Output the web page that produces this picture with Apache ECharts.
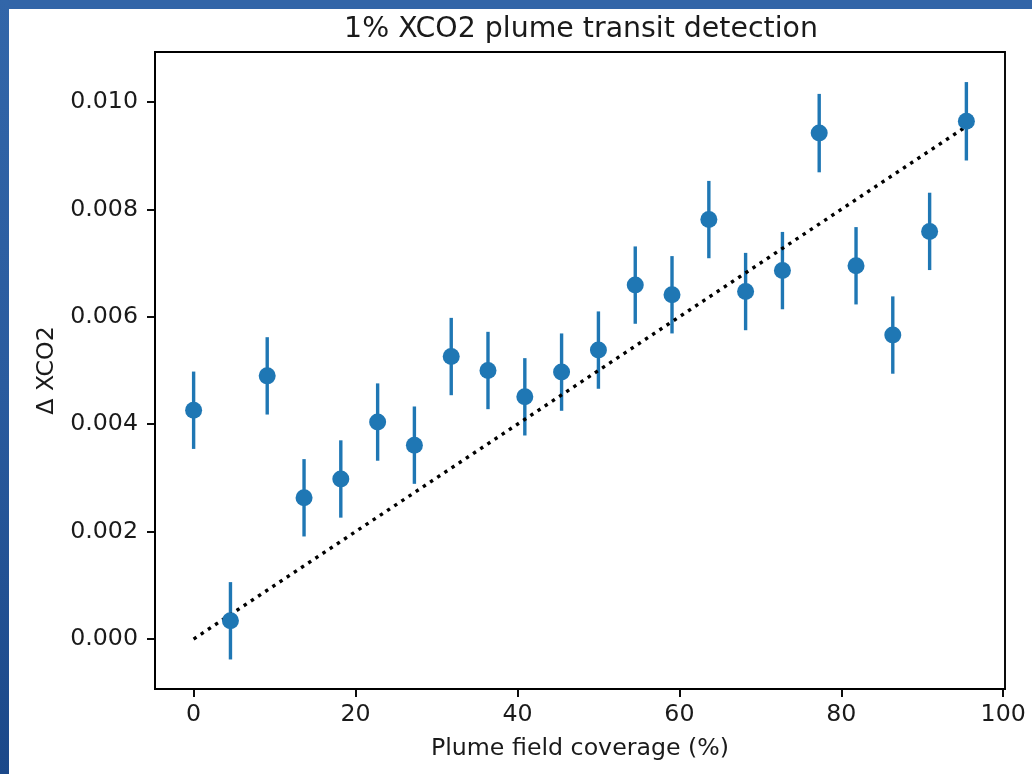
<!DOCTYPE html>
<html>
<head>
<meta charset="utf-8">
<title>1% XCO2 plume transit detection</title>
<script src="https://cdn.jsdelivr.net/npm/echarts@6/dist/echarts.min.js"></script>
<style>
  html, body { margin: 0; padding: 0; background: #ffffff; }
  #frame { position: relative; width: 1032px; height: 774px; overflow: hidden; background: #ffffff; }
  #bandTop { position: absolute; left: 0; top: 0; width: 1032px; height: 9px; background: #3265a8; }
  #bandLeft { position: absolute; left: 0; top: 0; width: 9px; height: 774px;
    background: linear-gradient(to bottom, #3266a9 0%, #2a5b9e 50%, #1b4889 100%); }
  #chart { position: absolute; left: 0; top: 0; width: 1032px; height: 774px; }
</style>
</head>
<body>
<div id="frame">
  <div id="chart"></div>
  <div id="bandTop"></div>
  <div id="bandLeft"></div>
</div>
<script>
// Plume field coverage (%) for each transit bin
const coverage = [0, 4.55, 9.09, 13.64, 18.18, 22.73, 27.27, 31.82, 36.36, 40.91, 45.45,
                  50.0, 54.55, 59.09, 63.64, 68.18, 72.73, 77.27, 81.82, 86.36, 90.91, 95.45];
// Measured Δ XCO2 per bin
const deltaXco2 = [0.00426, 0.00034, 0.00490, 0.00263, 0.00298, 0.00404, 0.00361, 0.00526,
                   0.00500, 0.00451, 0.00497, 0.00538, 0.00659, 0.00641, 0.00781, 0.00647,
                   0.00686, 0.00942, 0.00695, 0.00566, 0.00759, 0.00964];
// One-sigma uncertainty per bin
const deltaErr = [0.00072, 0.00072, 0.00072, 0.00072, 0.00072, 0.00072, 0.00072, 0.00072,
                  0.00072, 0.00072, 0.00072, 0.00072, 0.00072, 0.00072, 0.00072, 0.00072,
                  0.00072, 0.00073, 0.00072, 0.00072, 0.00072, 0.00073];
// Expected response line endpoints
const expectedX = [0, 95.45];
const expectedY = [0, 0.009545];
// Tick positions
const xTicks = [0, 20, 40, 60, 80, 100];
const yTicks = [0, 0.002, 0.004, 0.006, 0.008, 0.010];

const BLUE = '#1f77b4';
const INK = '#1a1a1a';
const FONT = 'DejaVu Sans';
const TICK_FS = 23.7;

const points = coverage.map((x, i) => [x, deltaXco2[i], deltaErr[i]]);
const expected = expectedX.map((x, i) => [x, expectedY[i]]);

const chart = echarts.init(document.getElementById('chart'), null, { renderer: 'canvas' });

chart.setOption({
  animation: false,
  backgroundColor: 'transparent',
  textStyle: { fontFamily: FONT, color: INK },
  title: {
    text: '1% XCO2 plume transit detection',
    left: 576,
    top: 11,
    textAlign: 'center',
    textStyle: { fontFamily: FONT, fontSize: 28.4, fontWeight: 'normal', color: INK }
  },
  grid: {
    left: 155, right: 27, top: 52, bottom: 85,
    show: true, borderColor: '#000', borderWidth: 1.9, backgroundColor: '#fff'
  },
  xAxis: {
    type: 'value',
    min: -4.77, max: 100.22,
    name: 'Plume field coverage (%)',
    nameLocation: 'middle',
    nameGap: 48,
    nameTextStyle: { fontFamily: FONT, fontSize: TICK_FS, color: INK },
    splitLine: { show: false },
    axisLine: { show: true, onZero: false, lineStyle: { color: '#000', width: 1.9 } },
    axisTick: { show: true, length: 8, customValues: xTicks, lineStyle: { color: '#000', width: 1.9 } },
    axisLabel: {
      show: true, margin: 14, customValues: xTicks,
      fontFamily: FONT, fontSize: TICK_FS, color: INK,
      formatter: v => String(Math.round(v))
    }
  },
  yAxis: {
    type: 'value',
    min: -0.00093, max: 0.01093,
    name: 'Δ XCO2',
    nameLocation: 'middle',
    nameRotate: 90,
    nameGap: 96,
    nameTextStyle: { fontFamily: FONT, fontSize: TICK_FS, color: INK },
    splitLine: { show: false },
    axisLine: { show: true, onZero: false, lineStyle: { color: '#000', width: 1.9 } },
    axisTick: { show: true, length: 8, customValues: yTicks, lineStyle: { color: '#000', width: 1.9 } },
    axisLabel: {
      show: true, margin: 17, customValues: yTicks,
      fontFamily: FONT, fontSize: TICK_FS, color: INK,
      formatter: v => v.toFixed(3)
    }
  },
  series: [
    {
      // vertical error bars
      type: 'custom',
      z: 1,
      data: points,
      encode: { x: 0, y: 1 },
      renderItem: function (params, api) {
        const x = api.value(0), y = api.value(1), e = api.value(2);
        const lo = api.coord([x, y - e]);
        const hi = api.coord([x, y + e]);
        return {
          type: 'line',
          shape: { x1: lo[0], y1: lo[1], x2: hi[0], y2: hi[1] },
          style: { stroke: BLUE, lineWidth: 3.4 }
        };
      }
    },
    {
      // expected response (dotted)
      type: 'line',
      z: 2,
      data: expected,
      showSymbol: false,
      symbol: 'none',
      lineStyle: { color: '#000', width: 3.4, type: [3.4, 5.2], cap: 'butt' }
    },
    {
      type: 'scatter',
      z: 3,
      data: points.map(p => [p[0], p[1]]),
      symbol: 'circle',
      symbolSize: 17,
      itemStyle: { color: BLUE, opacity: 1 }
    }
  ]
});
</script>
</body>
</html>
